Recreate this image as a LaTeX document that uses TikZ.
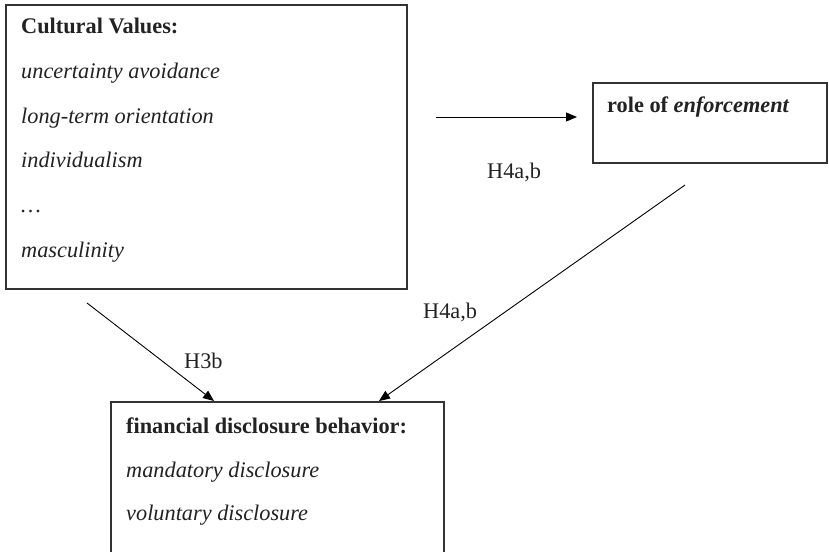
\documentclass[tikz,border=0pt]{standalone}
\usepackage{fontspec}
\setmainfont{Liberation Serif}
\usetikzlibrary{arrows.meta}
\definecolor{ink}{HTML}{222222}
\definecolor{edge}{HTML}{333333}
\tikzset{
  box/.style={draw=edge, line width=1.3pt, rectangle, inner sep=0pt, fill=none},
  txt/.style={font=\fontsize{22.3}{26}\selectfont, text=ink, inner sep=0pt, anchor=base west},
  conn/.style={draw=black, line width=0.9pt, -{Triangle[length=11pt,width=9pt]}}
}
\begin{document}
\begin{tikzpicture}[x=1pt,y=1pt]
\useasboundingbox (0,0) rectangle (829,-551);
\clip (0,0) rectangle (829,-551);
% boxes
\node[box, minimum width=401pt, minimum height=284pt] (cv) at (206.5,-147) {};
\node[box, minimum width=234pt, minimum height=80pt] (enf) at (710,-123) {};
\node[box, minimum width=333pt, minimum height=158pt] (fdb) at (277.5,-481) {};
% cultural values text
\node[txt] (cvt) at (21,-34) {\bfseries Cultural Values:};
\node[txt] (cv1) at (21,-78) {\itshape uncertainty avoidance};
\node[txt] (cv2) at (21,-123) {\itshape long-term orientation};
\node[txt] (cv3) at (21,-167) {\itshape individualism};
\node[txt] (cv4) at (21,-212) {\itshape \dots};
\node[txt] (cv5) at (21,-257) {\itshape masculinity};
% enforcement text
\node[txt] (enft) at (607,-112) {\bfseries role of \itshape enforcement};
% disclosure text
\node[txt] (fdbt) at (126,-433) {\bfseries financial disclosure behavior:};
\node[txt] (fdb1) at (126,-477) {\itshape mandatory disclosure};
\node[txt] (fdb2) at (126,-520) {\itshape voluntary disclosure};
% labels
\node[txt] (l1) at (487,-178) {H4a,b};
\node[txt] (l2) at (423,-318) {H4a,b};
\node[txt] (l3) at (184,-368) {H3b};
% connector endpoints
\coordinate (a1s) at (436,-117);
\coordinate (a1e) at (577,-117);
\coordinate (a2s) at (87,-303);
\coordinate (a2e) at (214,-401);
\coordinate (a3s) at (685,-185);
\coordinate (a3e) at (379,-401);
\draw[conn] (a1s) -- (a1e);
\draw[conn] (a2s) -- (a2e);
\draw[conn] (a3s) -- (a3e);
\end{tikzpicture}
\end{document}
